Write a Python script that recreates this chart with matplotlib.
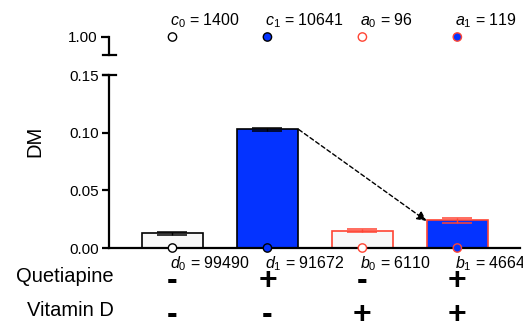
import matplotlib.pyplot as plt
from matplotlib.lines import Line2D

plt.rcParams['font.family'] = ['Liberation Sans', 'DejaVu Sans']
plt.rcParams['mathtext.fontset'] = 'custom'
plt.rcParams['mathtext.rm'] = 'Liberation Sans'
plt.rcParams['mathtext.it'] = 'Liberation Sans:italic'

# data
dm_mean = [0.0127, 0.1029, 0.0150, 0.0240]
dm_err = [0.0010, 0.0014, 0.0011, 0.0022]
top_labels = [r'$c_0$ = 1400', r'$c_1$ = 10641', r'$a_0$ = 96', r'$a_1$ = 119']
bottom_labels = [r'$d_0$ = 99490', r'$d_1$ = 91672', r'$b_0$ = 6110', r'$b_1$ = 4664']
quetiapine = ['-', '+', '-', '+']
vitamin_d = ['-', '-', '+', '+']

blue = '#0433FF'
red = '#FF4433'
bar_fill = ['#F8F8F8', blue, '#F8F8F8', blue]
bar_edge = ['black', 'black', red, red]
err_col = ['black', 'black', red, red]
top_face = ['white', blue, 'white', blue]
top_edge = ['black', 'black', red, red]

W, H = 523, 322
fig = plt.figure(figsize=(W / 100, H / 100), dpi=100)


def px_box(l, t, r, b):
    return [l / W, 1 - b / H, (r - l) / W, (b - t) / H]


ax = fig.add_axes(px_box(108.5, 75, 520, 248))
ax_top = fig.add_axes(px_box(108.5, 37, 520, 55), sharex=ax)

x = list(range(len(dm_mean)))
ax.bar(x, dm_mean, width=0.645, color=bar_fill, edgecolor=bar_edge, linewidth=1.2, zorder=2)
for i in x:
    ax.errorbar(i, dm_mean[i], yerr=dm_err[i], color=err_col[i], capsize=11,
                elinewidth=1, capthick=1.1, zorder=3)

ax.set_xlim(-0.674, 3.66)
ax.set_ylim(0, 0.15)
ax.set_yticks([0, 0.05, 0.10, 0.15])
ax.set_yticklabels(['0.00', '0.05', '0.10', '0.15'])
ax.set_xticks([])
for s in ['top', 'right']:
    ax.spines[s].set_visible(False)
ax.spines['left'].set_linewidth(1.6)
ax.spines['bottom'].set_linewidth(1.6)
ax.tick_params(axis='y', width=1.6, length=5, labelsize=11, pad=2)

# bottom circles on the axis
ax.scatter(x, [0] * 4, s=36, c=top_face, edgecolors=top_edge, linewidths=1,
           zorder=5, clip_on=False)
for i in x:
    ax.annotate(bottom_labels[i], xy=(i, 0), xytext=(-1.5, -4.5), textcoords='offset points',
                ha='left', va='top', fontsize=11.5)

# arrow between bars
ax.annotate('', xy=(2.675, dm_mean[3] - 0.0005), xytext=(1.33, dm_mean[1] - 0.0002),
            arrowprops=dict(arrowstyle='-|>', linestyle=(0, (3, 2)), color='black',
                            lw=1, shrinkA=0, shrinkB=0, mutation_scale=14))

# top broken segment
ax_top.set_ylim(0.9, 1.0)
ax_top.set_yticks([1.0])
ax_top.set_yticklabels(['1.00'])
for s in ['top', 'right', 'bottom']:
    ax_top.spines[s].set_visible(False)
ax_top.spines['left'].set_linewidth(1.6)
ax_top.tick_params(axis='y', width=1.6, length=6, labelsize=11, pad=2)
ax_top.tick_params(axis='x', bottom=False, labelbottom=False)
ax_top.patch.set_visible(False)
ax_top.scatter(x, [1.0] * 4, s=36, c=top_face, edgecolors=top_edge, linewidths=1,
               zorder=5, clip_on=False)
for i in x:
    ax_top.annotate(top_labels[i], xy=(i, 1.0), xytext=(-1.5, 5), textcoords='offset points',
                    ha='left', va='bottom', fontsize=11.5)

# break caps
for yy in [55, 75]:
    fig.add_artist(Line2D([103 / W, 116 / W], [1 - yy / H] * 2, color='black', lw=1.6))

fig.text(35 / W, 1 - 141 / H, 'DM', rotation=90, ha='center', va='center', fontsize=14.5)

# treatment table
tr = ax.get_xaxis_transform()
fig.text(114 / W, 1 - 282 / H, 'Quetiapine', ha='right', va='baseline', fontsize=14.5)
fig.text(114 / W, 1 - 316 / H, 'Vitamin D', ha='right', va='baseline', fontsize=14.5)
for i in x:
    ax.text(i, -0.19, quetiapine[i], transform=tr, ha='center', va='center',
            fontsize=23, fontweight='bold')
    ax.text(i, -0.385, vitamin_d[i], transform=tr, ha='center', va='center',
            fontsize=23, fontweight='bold')

fig.savefig('out.png', dpi=100)
